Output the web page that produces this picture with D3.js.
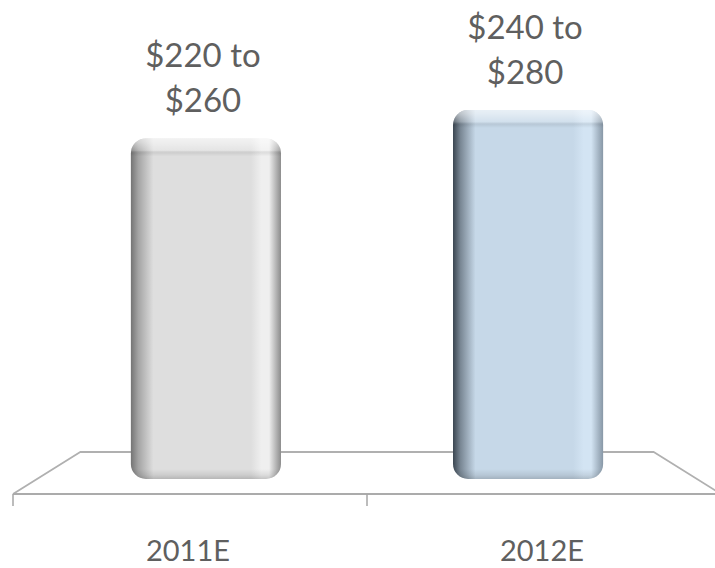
<!DOCTYPE html>
<html>
<head>
<meta charset="utf-8">
<script src="https://cdn.jsdelivr.net/npm/d3@7"></script>
<style>
  html, body { margin: 0; padding: 0; background: #ffffff; }
  svg { display: block; }
</style>
</head>
<body>
<svg id="chart" width="715" height="568"></svg>
<script>
// Revenue outlook, estimated ranges by year
const categories = ["2011E", "2012E"];
const rangeLow = [220, 240];
const rangeHigh = [260, 280];

// Bar fill palettes: [left edge, body, right highlight, right edge]
const barPalettes = [
  ["#747474", "#dedede", "#efefef", "#8c8c8c"],
  ["#3a4550", "#c6d8e8", "#d3e4f3", "#8797a6"]
];

const W = 715, H = 568;
const svg = d3.select("#chart");
const defs = svg.append("defs");

// Floor plane (front edge, back edge) and perspective
const floorFrontY = 494, floorBackY = 452, barBaseY = 479;
const x = d3.scaleBand().domain(categories).range([13, 721]).padding(0);
const vanishX = x.range()[0] + x.bandwidth();          // centre of the floor
const backDepth = 0.81;                                // back edge shrink
const barDepth = 0.91;                                 // bars stand inside the floor
const barFrac = 0.466;                                 // bar width / band width

const y = d3.scaleLinear().domain([0, 260]).range([barBaseY, 110]);

const persp = (px, k) => vanishX + (px - vanishX) * k;

// ---- floor ----
const floor = svg.append("g").attr("class", "floor");
const [r0, r1] = x.range();
const fl = persp(r0, backDepth), fr = persp(r1, backDepth);
floor.append("path")
  .attr("d", `M${r0},${floorFrontY} L${fl},${floorBackY} L${fr},${floorBackY} L${r1},${floorFrontY}`)
  .attr("fill", "none").attr("stroke", "#b0b0b0").attr("stroke-width", 1.8)
  .attr("stroke-linejoin", "round");
floor.append("line")
  .attr("x1", r0).attr("x2", r1).attr("y1", floorFrontY).attr("y2", floorFrontY)
  .attr("stroke", "#ababab").attr("stroke-width", 2);

// category boundary ticks
const tickXs = [r0, r0 + x.bandwidth()];
floor.selectAll("line.tick").data(tickXs).join("line")
  .attr("class", "tick")
  .attr("x1", d => d).attr("x2", d => d)
  .attr("y1", floorFrontY).attr("y2", floorFrontY + 12)
  .attr("stroke", "#a6a6a6").attr("stroke-width", 1.5);

// ---- bars ----
const bars = categories.map((c, i) => {
  const mid = (rangeLow[i] + rangeHigh[i]) / 2;
  const cx = persp(x(c) + x.bandwidth() / 2, barDepth);
  const w = x.bandwidth() * barFrac * barDepth;
  return { c, i, mid, cx, w, top: y(mid), bottom: y(0) };
});

bars.forEach(b => {
  const p = barPalettes[b.i];
  const hg = defs.append("linearGradient").attr("id", "hg" + b.i)
    .attr("x1", 0).attr("x2", 1).attr("y1", 0).attr("y2", 0);
  [[0, p[0]], [0.05, d3.interpolateRgb(p[0], p[1])(0.45)], [0.15, p[1]],
   [0.80, p[1]], [0.87, p[2]], [0.92, p[2]], [1, p[3]]]
    .forEach(([o, col]) => hg.append("stop").attr("offset", o).attr("stop-color", col));

  // top / bottom bevel
  const h = b.bottom - b.top;
  const vg = defs.append("linearGradient").attr("id", "vg" + b.i)
    .attr("x1", 0).attr("x2", 0).attr("y1", 0).attr("y2", 1);
  [[0, "#ffffff", 0.6], [4 / h, "#ffffff", 0.5], [12 / h, "#ffffff", 0.2],
   [15 / h, "#000000", 0.06], [18 / h, "#000000", 0.0],
   [1 - 10 / h, "#000000", 0.0], [1 - 4 / h, "#000000", 0.08], [1, "#000000", 0.18]]
    .forEach(([o, col, op]) => vg.append("stop").attr("offset", o)
      .attr("stop-color", col).attr("stop-opacity", op));
});

const barG = svg.append("g").attr("class", "bars");
barG.selectAll("rect.body").data(bars).join("rect")
  .attr("class", "body")
  .attr("x", d => d.cx - d.w / 2).attr("y", d => d.top)
  .attr("width", d => d.w).attr("height", d => d.bottom - d.top)
  .attr("rx", 15).attr("ry", 15)
  .attr("fill", d => `url(#hg${d.i})`);
barG.selectAll("rect.bevel").data(bars).join("rect")
  .attr("class", "bevel")
  .attr("x", d => d.cx - d.w / 2).attr("y", d => d.top)
  .attr("width", d => d.w).attr("height", d => d.bottom - d.top)
  .attr("rx", 15).attr("ry", 15)
  .attr("fill", d => `url(#vg${d.i})`);

// ---- value labels ----
const font = "Lato, 'Open Sans', sans-serif";
const labels = svg.append("g").attr("class", "value-labels")
  .attr("font-family", font).attr("font-size", 33).attr("fill", "#5f5f5f")
  .attr("text-anchor", "middle");
labels.selectAll("text").data(bars).join("text")
  .attr("x", d => d.cx - 3)
  .attr("y", d => d.top - 71)
  .each(function (d) {
    const t = d3.select(this);
    t.append("tspan").attr("x", d.cx - 3).text(`$${rangeLow[d.i]} to`);
    t.append("tspan").attr("x", d.cx - 3).attr("dy", 45).text(`$${rangeHigh[d.i]}`);
  });

// ---- category labels ----
svg.append("g").attr("class", "category-labels")
  .attr("font-family", font).attr("font-size", 29).attr("fill", "#5f5f5f")
  .attr("text-anchor", "middle")
  .selectAll("text").data(categories).join("text")
  .attr("x", d => x(d) + x.bandwidth() / 2 - 2)
  .attr("y", 561)
  .text(d => d);
</script>
</body>
</html>
